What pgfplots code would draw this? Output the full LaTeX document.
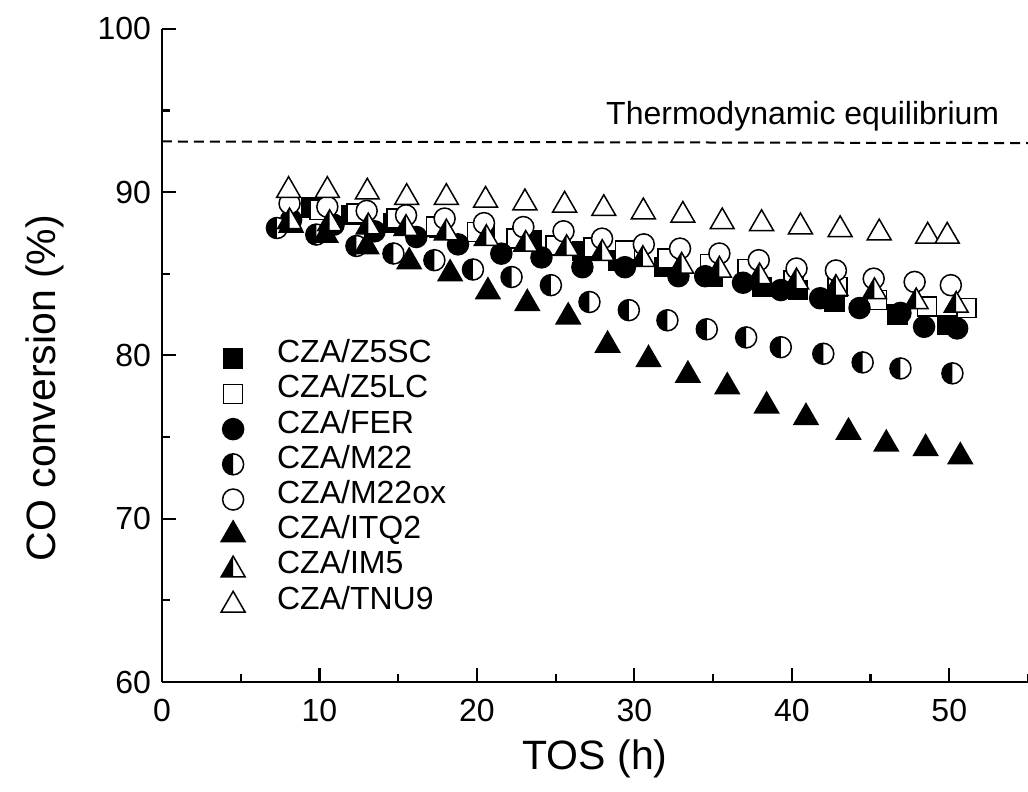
\documentclass[border=0pt]{standalone}
\usepackage{fontspec}
\setmainfont{Liberation Sans}
\usepackage{pgfplots}
\pgfplotsset{compat=1.18}
\pgfdeclareplotmark{hcirc}{%
  \pgfpathcircle{\pgfpointorigin}{\pgfplotmarksize}%
  \pgfsetfillcolor{white}\pgfusepath{fill}%
  \pgfpathmoveto{\pgfqpoint{0pt}{\pgfplotmarksize}}%
  \pgfpatharc{90}{270}{\pgfplotmarksize}%
  \pgfpathclose
  \pgfsetfillcolor{black}\pgfusepath{fill}%
  \pgfpathcircle{\pgfpointorigin}{\pgfplotmarksize}%
  \pgfusepath{stroke}%
}
\pgfdeclareplotmark{htri}{%
  \pgfpathmoveto{\pgfqpoint{0pt}{\pgfplotmarksize}}%
  \pgfpathlineto{\pgfqpoint{-.866\pgfplotmarksize}{-.5\pgfplotmarksize}}%
  \pgfpathlineto{\pgfqpoint{.866\pgfplotmarksize}{-.5\pgfplotmarksize}}%
  \pgfpathclose
  \pgfsetfillcolor{white}\pgfusepath{fill}%
  \pgfpathmoveto{\pgfqpoint{0pt}{\pgfplotmarksize}}%
  \pgfpathlineto{\pgfqpoint{-.866\pgfplotmarksize}{-.5\pgfplotmarksize}}%
  \pgfpathlineto{\pgfqpoint{0pt}{-.5\pgfplotmarksize}}%
  \pgfpathclose
  \pgfsetfillcolor{black}\pgfusepath{fill}%
  \pgfpathmoveto{\pgfqpoint{0pt}{\pgfplotmarksize}}%
  \pgfpathlineto{\pgfqpoint{-.866\pgfplotmarksize}{-.5\pgfplotmarksize}}%
  \pgfpathlineto{\pgfqpoint{.866\pgfplotmarksize}{-.5\pgfplotmarksize}}%
  \pgfpathclose
  \pgfusepath{stroke}%
}
\begin{document}
\begin{tikzpicture}
\begin{axis}[
  scale only axis, width=433pt, height=326.6pt,
  xmin=0, xmax=55, ymin=60, ymax=100,
  axis x line=bottom, axis y line=left,
  axis line style={-, line width=1.1pt},
  xtick={0,10,...,50}, ytick={60,70,...,100},
  minor xtick={5,15,25,35,45,55}, minor ytick={65,75,85,95},
  tick align=inside, major tick length=7pt, minor tick length=4pt,
  every tick/.style={black, line width=1.1pt},
  tick label style={font=\fontsize{16}{16}\selectfont},
  /pgf/number format/assume math mode=true,
  xticklabel style={yshift=-5pt}, yticklabel style={xshift=-2pt},
  xlabel={TOS (h)}, ylabel={CO conversion (\%)},
  label style={font=\fontsize{20.5}{22}\selectfont},
  xlabel style={at={(axis description cs:0.5,-0.118)}, anchor=center},
  ylabel style={at={(axis description cs:-0.135,0.45)}, anchor=center},
  clip=false,
  every axis plot/.append style={only marks, line width=0.75pt, black},
  legend style={draw=none, fill=none, at={(axis description cs:0.0609,0.520)}, anchor=north west,
    font=\fontsize{16}{16}\selectfont, inner sep=0pt, row sep=1.6pt,
    nodes={inner sep=0pt, text height=10pt, text depth=6pt}},
  legend cell align=left,
  legend image code/.code={\path[draw=none, fill=none] (0pt,0pt) -- (31pt,0pt); \draw[mark repeat=2,mark phase=2] plot coordinates {(0pt,0pt) (9pt,0pt) (18pt,0pt)};},
]
\addplot[forget plot, sharp plot, mark=none, line width=1pt, dash pattern=on 5pt off 3pt] coordinates {(0,93.1) (55,93.0)};
\node[anchor=east, inner sep=0pt, font=\fontsize{16}{16}\selectfont] at (axis cs:53.2,94.65) {Thermodynamic equilibrium};
\coordinate (O) at (rel axis cs:0,0);
% CZA/Z5SC
\addplot[mark=square*, mark size=4.75pt, mark options={fill=black}] coordinates {
(9.5,89.05) (12.0,88.6) (14.7,88.1) (17.6,87.8) (20.5,87.4) (23.5,87.05) (26.7,86.4) (29.0,85.8)
(31.9,85.4) (35.0,84.8) (38.1,84.2) (40.4,84.0) (42.7,83.3) (46.7,82.5) (49.9,81.85)};
\addlegendentry{CZA/Z5SC}
% CZA/Z5LC
\addplot[mark=square*, mark size=4.75pt, mark options={fill=white}] coordinates {
(10.0,88.9) (12.35,88.7) (14.9,88.38) (17.4,87.9) (20.0,87.56) (22.5,87.15) (25.0,86.74) (27.4,86.6)
(29.4,86.43) (32.1,85.93) (34.8,85.6) (37.2,85.3) (40.1,84.6) (42.9,84.2) (45.4,83.4) (48.6,83.0) (51.1,82.9)};
\addlegendentry{CZA/Z5LC}
% CZA/FER
\addplot[mark=*, mark size=5.25pt, mark options={fill=black}] coordinates {
(8.2,88.3) (10.9,88.0) (13.5,87.6) (16.15,87.25) (18.8,86.8) (21.55,86.23) (24.1,86.0) (26.7,85.4)
(29.4,85.4) (32.8,84.85) (34.5,84.85) (36.9,84.45) (39.3,84.0) (41.8,83.5) (44.3,82.9) (46.9,82.6)
(48.4,81.75) (50.5,81.65)};
\addlegendentry{CZA/FER}
% CZA/M22
\addplot[mark=hcirc, mark size=5.25pt] coordinates {
(7.3,87.8) (9.8,87.4) (12.35,86.7) (14.7,86.24) (17.3,85.83) (19.75,85.26) (22.2,84.8) (24.7,84.3)
(27.15,83.27) (29.65,82.77) (32.1,82.15) (34.6,81.6) (37.1,81.1) (39.3,80.5) (42.0,80.1) (44.5,79.57)
(46.9,79.2) (50.2,78.9)};
\addlegendentry{CZA/M22}
% CZA/M22ox
\addplot[mark=*, mark size=5.25pt, mark options={fill=white}] coordinates {
(8.1,89.3) (10.5,89.1) (13.0,88.85) (15.5,88.58) (17.95,88.38) (20.45,88.1) (22.95,87.86) (25.5,87.6)
(27.95,87.15) (30.6,86.8) (32.9,86.54) (35.4,86.24) (37.9,85.83) (40.3,85.32) (42.8,85.2) (45.2,84.7)
(47.8,84.5) (50.1,84.3)};
\addlegendentry{CZA/M22ox}
% CZA/ITQ2
\addplot[mark=triangle*, mark size=6.9pt, mark options={fill=black}] coordinates {
(8.2,87.97) (10.4,87.36) (13.0,86.65) (15.7,85.73) (18.3,85.0) (20.7,83.9) (23.2,83.18) (25.8,82.36)
(28.3,80.63) (30.9,79.75) (33.4,78.79) (35.9,78.08) (38.4,76.9) (40.9,76.2) (43.6,75.3) (46.0,74.57)
(48.5,74.3) (50.7,73.8)};
\addlegendentry{CZA/ITQ2}
% CZA/IM5
\addplot[mark=htri, mark size=6.9pt] coordinates {
(8.1,88.18) (10.65,88.07) (13.1,87.87) (15.5,87.77) (18.06,87.5) (20.6,87.16) (23.1,86.8) (25.7,86.54)
(27.96,86.24) (30.54,85.87) (33.0,85.46) (35.4,85.22) (37.95,84.81) (40.3,84.5) (42.8,84.1) (45.25,83.9)
(47.9,83.28) (50.44,83.07)};
\addlegendentry{CZA/IM5}
% CZA/TNU9
\addplot[mark=triangle*, mark size=6.9pt, mark options={fill=white}] coordinates {
(8.04,90.1) (10.5,90.1) (13.04,90.0) (15.54,89.67) (18.06,89.67) (20.55,89.5) (23.05,89.34) (25.57,89.2)
(28.06,88.99) (30.57,88.79) (33.08,88.58) (35.58,88.18) (38.08,88.07) (40.55,87.87) (43.07,87.7) (45.55,87.5)
(48.63,87.3) (49.87,87.3)};
\addlegendentry{CZA/TNU9}
\end{axis}
\pgfresetboundingbox
\path ([shift={(-81pt,-55pt)}]O) rectangle ([shift={(433pt,341pt)}]O);
\end{tikzpicture}
\end{document}
